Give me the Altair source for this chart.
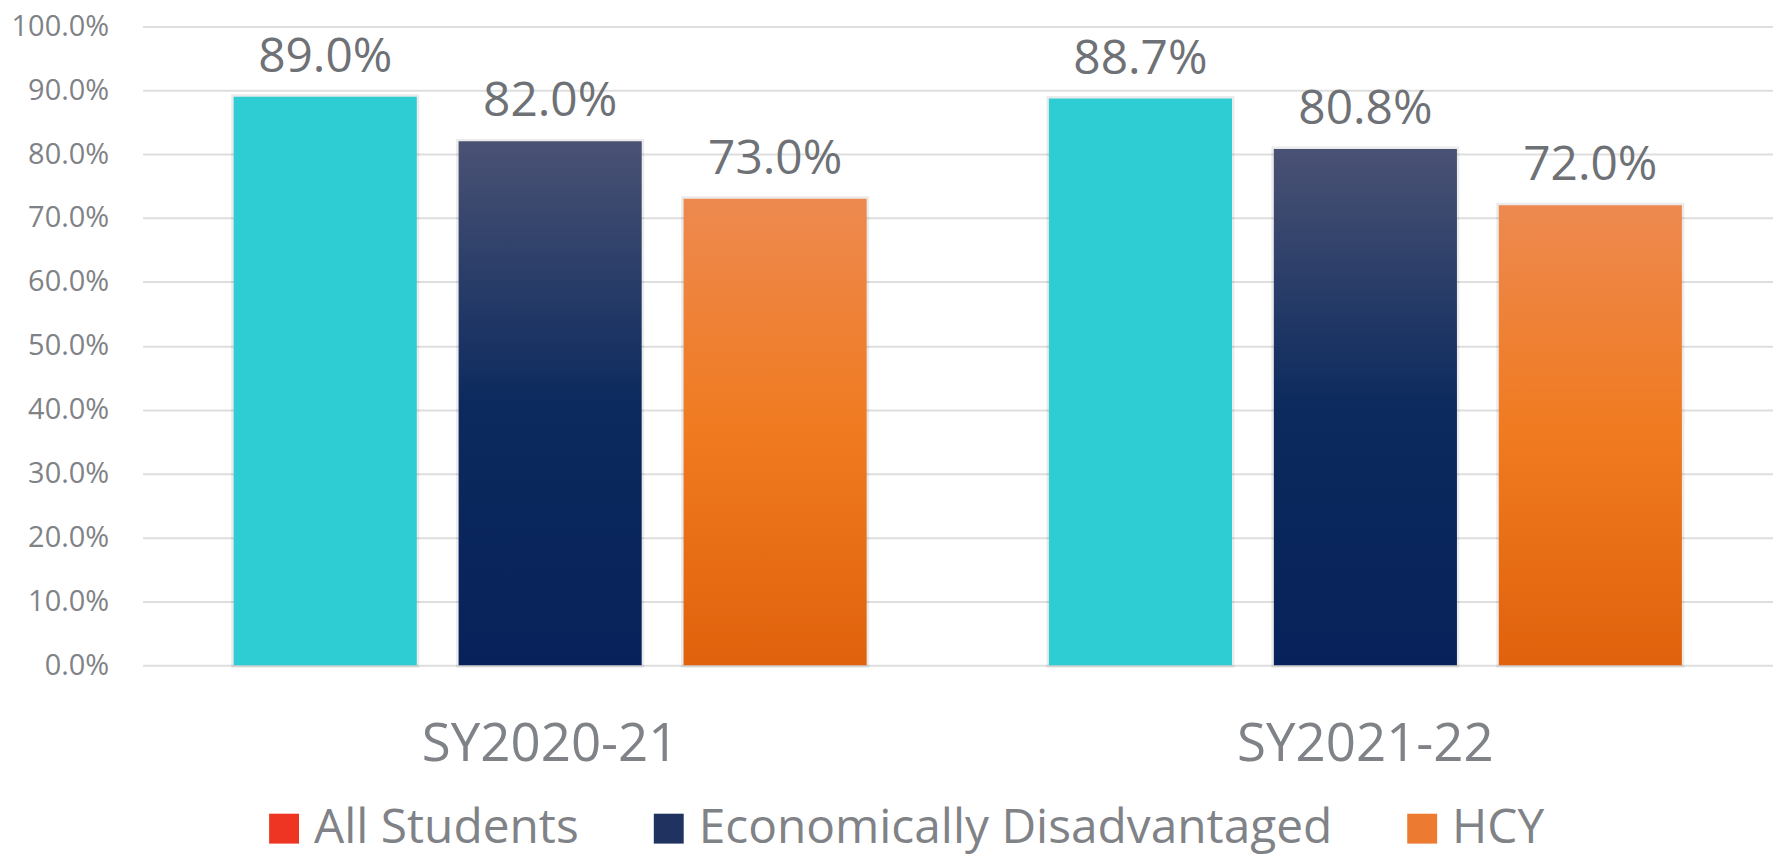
import altair as alt
import pandas as pd

years = ["SY2020-21", "SY2021-22"]
groups = ["All Students", "Economically Disadvantaged", "HCY"]
all_students = [0.890, 0.887]
econ_dis = [0.820, 0.808]
hcy = [0.730, 0.720]
y_ticks = [0.0, 0.1, 0.2, 0.3, 0.4, 0.5, 0.6, 0.7, 0.8, 0.9, 1.0]

rows = []
for g, vals in zip(groups, [all_students, econ_dis, hcy]):
    for yr, v in zip(years, vals):
        rows.append({"year": yr, "group": g, "value": v})
df = pd.DataFrame(rows)

FONT = "Open Sans"
GRAY = "#7f8286"

fills = {
    "All Students": "#2ECCD3",
    "Economically Disadvantaged": alt.Gradient(
        gradient="linear", x1=0, x2=0, y1=0, y2=1,
        stops=[alt.GradientStop(color="#4A5274", offset=0),
               alt.GradientStop(color="#0C2A5E", offset=0.5),
               alt.GradientStop(color="#07225A", offset=1)]),
    "HCY": alt.Gradient(
        gradient="linear", x1=0, x2=0, y1=0, y2=1,
        stops=[alt.GradientStop(color="#ED894F", offset=0),
               alt.GradientStop(color="#F07A1F", offset=0.5),
               alt.GradientStop(color="#E0620C", offset=1)]),
}

base = alt.Chart(df).encode(
    x=alt.X("year:N", sort=years,
            scale=alt.Scale(domain=years, paddingInner=0, paddingOuter=0),
            axis=alt.Axis(title=None, labelAngle=0, ticks=False, domain=False,
                          grid=False, labelFontSize=53, labelFont=FONT,
                          labelColor=GRAY, labelPadding=54, labelLimit=900)),
    xOffset=alt.XOffset("group:N",
                        scale=alt.Scale(domain=groups, paddingInner=0.186,
                                        paddingOuter=0.405)),
    y=alt.Y("value:Q",
            scale=alt.Scale(domain=[0, 1], nice=False),
            axis=alt.Axis(title=None, values=y_ticks, format=".1%",
                          ticks=False, domain=False, grid=True,
                          gridColor="#DEDEDE", gridWidth=2,
                          labelFontSize=29, labelFont=FONT, labelColor=GRAY,
                          labelPadding=34)),
)

shadow = base.mark_bar(
    fillOpacity=0, stroke="#000000", strokeWidth=5, strokeOpacity=0.08
)

bar_layers = [
    base.transform_filter(alt.datum.group == g).mark_bar(color=fills[g])
    for g in groups
]

labels = base.mark_text(
    dy=-25, baseline="alphabetic", fontSize=48, font=FONT, color="#6E7175"
).encode(text=alt.Text("value:Q", format=".1%"))

legend_layer = base.mark_point(filled=True, size=0, shape="square").encode(
    color=alt.Color(
        "group:N",
        scale=alt.Scale(domain=groups, range=["#EE3524", "#1F3260", "#EC7A30"]),
        legend=alt.Legend(
            title=None, orient="none", direction="horizontal",
            legendX=118, legendY=781, symbolType="square", symbolSize=900,
            symbolOpacity=1, symbolStrokeWidth=0, labelFontSize=48,
            labelFont=FONT, labelColor=GRAY, labelLimit=900,
            columnPadding=66, labelOffset=6,
        ),
    )
)

chart = alt.layer(shadow, *bar_layers, labels, legend_layer).properties(
    width=1636,
    height=641,
    autosize=alt.AutoSizeParams(type="none"),
    padding={"left": 135, "top": 17, "right": 0, "bottom": 191},
).configure_view(stroke=None)

chart.save("out.html", embed_options={"renderer": "svg", "actions": False})
